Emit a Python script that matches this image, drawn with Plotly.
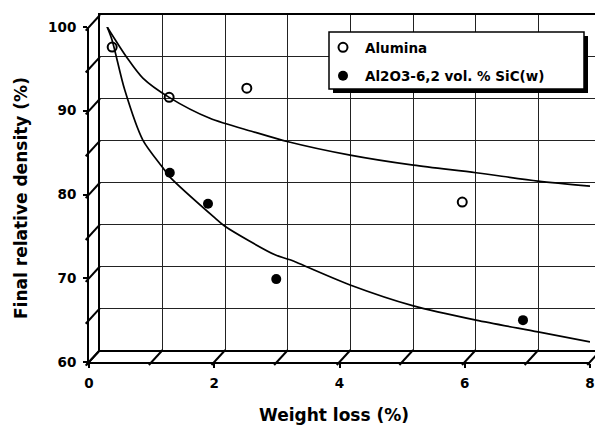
import plotly.graph_objects as go

# ---------------- data ----------------
alumina_x = [0.37, 1.28, 2.52, 5.96]
alumina_y = [97.6, 91.6, 92.7, 79.1]

sic_x = [1.29, 1.90, 2.99, 6.93]
sic_y = [82.6, 78.9, 69.9, 65.0]

alumina_fit_x = [0.29, 0.61, 0.86, 1.28, 1.93, 2.62, 3.18, 4.17, 5.18, 6.18, 7.17, 8.0]
alumina_fit_y = [100.0, 96.3, 93.9, 91.6, 89.1, 87.5, 86.3, 84.7, 83.5, 82.6, 81.6, 81.0]

sic_fit_x = [0.29, 0.37, 0.57, 0.86, 1.18, 1.29, 2.01, 2.17, 2.97, 3.21, 4.17, 5.18, 6.18, 7.17, 8.0]
sic_fit_y = [100.0, 98.4, 92.5, 86.5, 83.2, 82.1, 77.2, 76.2, 72.8, 72.2, 69.2, 66.7, 65.0, 63.6, 62.4]

x_ticks = [0, 2, 4, 6, 8]
x_minor = [0, 1, 2, 3, 4, 5, 6, 7, 8]
y_ticks = [60, 70, 80, 90, 100]
y_minor = [60, 65, 70, 75, 80, 85, 90, 95, 100]

series_names = ["Alumina", "Al2O3-6,2 vol. % SiC(w)"]

# ---------------- geometry ----------------
W, H = 595, 428
ML, MR, MT, MB = 89, 0, 15, 66
PW, PH = W - ML - MR, H - MT - MB          # paper size in px
FRONT_W, FRONT_H = 501, 335                # front plane size in px
DX, DY = 11, 12                            # depth offset of back plane
XMIN, XMAX, YMIN, YMAX = 0, 8, 60, 100
sx = FRONT_W / (XMAX - XMIN)
sy = FRONT_H / (YMAX - YMIN)


def to_px(px):
    return (px - ML) / PW


def to_py(py):
    return (H - MB - py) / PH


def front_px(v):
    return ML + (v - XMIN) * sx


def front_py(v):
    return H - MB - (v - YMIN) * sy


FONT = "DejaVu Sans"

fig = go.Figure()

# invisible trace to activate back-plane axes
fig.add_trace(go.Scatter(x=[XMIN], y=[YMIN], xaxis="x", yaxis="y",
                         mode="markers", marker=dict(opacity=0),
                         showlegend=False, hoverinfo="skip"))

# fit curves
fig.add_trace(go.Scatter(x=alumina_fit_x, y=alumina_fit_y, xaxis="x2", yaxis="y2",
                         mode="lines", line=dict(color="black", width=1.7, shape="spline", smoothing=0.8),
                         showlegend=False, hoverinfo="skip"))
fig.add_trace(go.Scatter(x=sic_fit_x, y=sic_fit_y, xaxis="x2", yaxis="y2",
                         mode="lines", line=dict(color="black", width=1.7, shape="spline", smoothing=0.8),
                         showlegend=False, hoverinfo="skip"))

# data points
fig.add_trace(go.Scatter(x=alumina_x, y=alumina_y, xaxis="x2", yaxis="y2",
                         mode="markers", name=series_names[0], legendgroup="a",
                         marker=dict(symbol="circle-open", size=9, color="black",
                                     line=dict(color="black", width=2)),
                         cliponaxis=False))
fig.add_trace(go.Scatter(x=sic_x, y=sic_y, xaxis="x2", yaxis="y2",
                         mode="markers", name=series_names[1], legendgroup="b",
                         marker=dict(symbol="circle", size=10, color="black"),
                         cliponaxis=False))

shapes = []
line_k = dict(color="black", width=2)
# depth connectors along floor
for v in x_minor:
    x0, y0 = front_px(v), front_py(YMIN)
    shapes.append(dict(type="line", xref="paper", yref="paper",
                       x0=to_px(x0 - 0.25 * DX), y0=to_py(y0 + 0.25 * DY),
                       x1=to_px(x0 + DX), y1=to_py(y0 - DY), line=line_k, layer="above"))
# depth connectors along left wall
for v in y_minor:
    x0, y0 = front_px(XMIN), front_py(v)
    shapes.append(dict(type="line", xref="paper", yref="paper",
                       x0=to_px(x0 - 0.3 * DX), y0=to_py(y0 + 0.3 * DY),
                       x1=to_px(x0 + DX), y1=to_py(y0 - DY), line=line_k, layer="above"))

# legend box with shadow
lb_l, lb_t, lb_r, lb_b = 329, 32, 584, 89
shapes.append(dict(type="rect", xref="paper", yref="paper",
                   x0=to_px(lb_l + 4), y0=to_py(lb_t + 4), x1=to_px(lb_r + 4), y1=to_py(lb_b + 4),
                   fillcolor="black", line=dict(width=0), layer="above"))
shapes.append(dict(type="rect", xref="paper", yref="paper",
                   x0=to_px(lb_l), y0=to_py(lb_t), x1=to_px(lb_r), y1=to_py(lb_b),
                   fillcolor="white", line=dict(color="black", width=1.5), layer="above"))

tickfont = dict(family=FONT, size=13.5, color="black", weight="bold")

fig.update_layout(
    width=W, height=H,
    margin=dict(l=ML, r=MR, t=MT, b=MB),
    paper_bgcolor="white", plot_bgcolor="rgba(0,0,0,0)",
    shapes=shapes,
    showlegend=True,
    legend=dict(x=to_px(321), y=to_py(32), xanchor="left", yanchor="top",
                bgcolor="rgba(0,0,0,0)", borderwidth=0, itemwidth=34,
                font=dict(family=FONT, size=13.5, color="black", weight="bold"),
                traceorder="grouped", tracegroupgap=8),
    # back plane (grid)
    xaxis=dict(domain=[DX / PW, 1], range=[XMIN, XMIN + (PW - DX) / sx], anchor="y",
               showgrid=True, gridcolor="#222222", gridwidth=1, dtick=1, tick0=0,
               showticklabels=False, ticks="", zeroline=False, automargin=False,
               showline=True, linecolor="black", linewidth=2, mirror=True),
    yaxis=dict(domain=[DY / PH, 1], range=[YMIN, YMAX], anchor="x",
               showgrid=True, gridcolor="#222222", gridwidth=1, dtick=5, tick0=60,
               showticklabels=False, ticks="", zeroline=False, automargin=False,
               showline=True, linecolor="black", linewidth=2),
    # front plane (axes + data)
    xaxis2=dict(domain=[0, FRONT_W / PW], range=[XMIN, XMAX], anchor="y2",
                showgrid=False, zeroline=False, tickvals=x_ticks, automargin=False,
                ticks="outside", ticklen=4, tickwidth=2, tickcolor="black",
                showline=True, linecolor="black", linewidth=2,
                tickfont=tickfont, ticklabelstandoff=4),
    yaxis2=dict(domain=[0, FRONT_H / PH], range=[YMIN, YMAX], anchor="x2",
                showgrid=False, zeroline=False, tickvals=y_ticks, automargin=False,
                ticks="outside", ticklen=4, tickwidth=2, tickcolor="black",
                showline=True, linecolor="black", linewidth=2,
                tickfont=tickfont, ticklabelstandoff=4),
    annotations=[
        dict(text="Final relative density (%)", xref="paper", yref="paper",
             x=to_px(21), y=to_py(198), textangle=-90, showarrow=False,
             xanchor="center", yanchor="middle",
             font=dict(family=FONT, size=17, color="black", weight="bold")),
        dict(text="Weight loss (%)", xref="paper", yref="paper",
             x=to_px(334), y=to_py(415), showarrow=False,
             xanchor="center", yanchor="middle",
             font=dict(family=FONT, size=17, color="black", weight="bold")),
    ],
)

fig.write_html("out.html", config={"displayModeBar": False},
               post_script="document.body.style.margin='0px';")
